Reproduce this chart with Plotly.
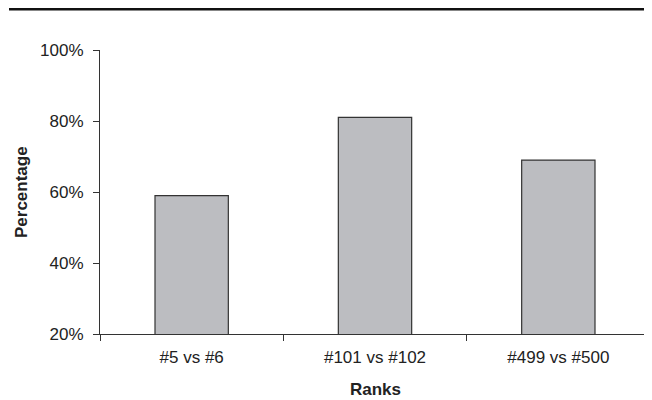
import plotly.graph_objects as go

categories = ["#5 vs #6", "#101 vs #102", "#499 vs #500"]
percentages = [59, 81, 69]
y_ticks = [20, 40, 60, 80, 100]
y_tick_labels = ["20%", "40%", "60%", "80%", "100%"]

fig = go.Figure()
fig.add_trace(go.Bar(
    x=categories,
    y=percentages,
    width=0.4,
    marker=dict(color="#bcbdc1", line=dict(color="#333333", width=1.2)),
))

font_family = "Liberation Sans, Arial, sans-serif"
# page is offset by the 8px body margin
L, T, B, R = 92, 42, 74, 10
PW, PH = 652 - L - R, 400 - T - B  # 550 x 284
OFF = 8

def px_x(page_x):
    return (page_x - OFF - L) / PW

def px_y(page_y):
    return (400 - B + OFF - page_y) / PH

fig.update_layout(
    width=652, height=400,
    margin=dict(l=L, r=R, t=T, b=B, autoexpand=False),
    paper_bgcolor="white", plot_bgcolor="white",
    showlegend=False,
    font=dict(family=font_family, size=17, color="#222222"),
    xaxis=dict(
        automargin=False,
        showline=True, linecolor="#333333", linewidth=1,
        ticks="outside", ticklen=6, tickcolor="#333333",
        tickson="boundaries",
        showgrid=False,
        ticklabelstandoff=8,
        tickfont=dict(size=17, color="#222222"),
    ),
    yaxis=dict(
        automargin=False,
        range=[20, 100],
        tickvals=y_ticks, ticktext=y_tick_labels,
        showline=True, linecolor="#333333", linewidth=1,
        ticks="outside", ticklen=6, tickcolor="#333333",
        showgrid=False, zeroline=False,
        ticklabelstandoff=6,
        tickfont=dict(size=17, color="#222222"),
    ),
    annotations=[
        dict(text="<b>Ranks</b>", xref="paper", yref="paper",
             x=0.5, y=px_y(389), xanchor="center", yanchor="middle",
             showarrow=False, font=dict(size=17, color="#222222")),
        dict(text="<b>Percentage</b>", xref="paper", yref="paper",
             x=px_x(21), y=0.5, xanchor="center", yanchor="middle",
             textangle=-90, showarrow=False,
             font=dict(size=17, color="#222222")),
    ],
    shapes=[dict(
        type="line", xref="paper", yref="paper",
        x0=px_x(9), x1=px_x(650),
        y0=px_y(9), y1=px_y(9),
        line=dict(color="#111111", width=3),
    )],
)

fig.write_html("out.html")
